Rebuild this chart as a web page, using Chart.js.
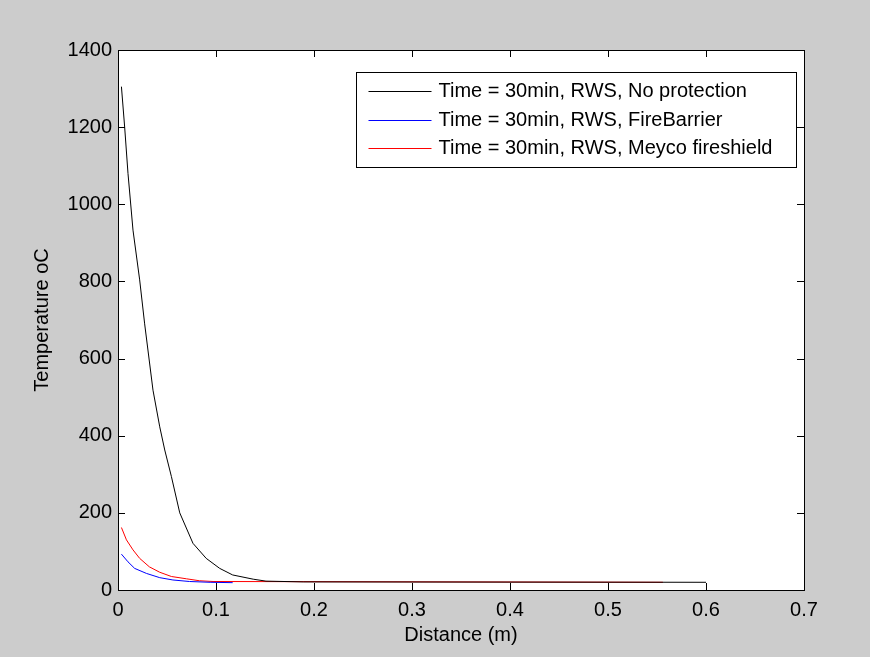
<!DOCTYPE html>
<html>
<head>
<meta charset="utf-8">
<title>Temperature vs distance</title>
<script src="https://cdn.jsdelivr.net/npm/chart.js@4.4.1/dist/chart.umd.min.js"></script>
<style>
  html, body { margin: 0; padding: 0; background: #cccccc; }
  canvas { display: block; }
</style>
</head>
<body>
<canvas id="chartTemp" width="870" height="657"></canvas>
<script>
// ── DATA ──
const distNoProt = [0.0035, 0.0068, 0.0102, 0.0153, 0.0221, 0.0272, 0.0357, 0.0426, 0.0477, 0.0545, 0.063, 0.0765, 0.090, 0.1038, 0.117, 0.138, 0.151, 0.189, 0.6];
const tempNoProt = [1305, 1200, 1080, 933, 804, 690, 518, 423, 363, 294, 200, 121, 82, 56, 39, 28, 23, 21, 20];

const distFireBarrier = [0.0035, 0.0102, 0.017, 0.029, 0.0426, 0.056, 0.073, 0.094, 0.117];
const tempFireBarrier = [93, 73, 56, 43, 32, 26, 22, 20, 19];

const distMeyco = [0.0035, 0.0086, 0.0153, 0.0221, 0.032, 0.0426, 0.0545, 0.07, 0.083, 0.097, 0.556];
const tempMeyco = [162, 130, 104, 82, 60, 46, 35, 29, 24, 22, 20];

const seriesLabels = [
    "Time = 30min, RWS, No protection",
    "Time = 30min, RWS, FireBarrier",
    "Time = 30min, RWS, Meyco fireshield"
];
const seriesColors = ["#000000", "#0000ff", "#ff0000"];

const xTicks = [0, 0.1, 0.2, 0.3, 0.4, 0.5, 0.6, 0.7];
const yTicks = [0, 200, 400, 600, 800, 1000, 1200, 1400];

const FONT = "'Liberation Sans', Arial, sans-serif";
const pts = (xs, ys) => xs.map((x, i) => ({ x: x, y: ys[i] }));

// ── MATLAB-like frame: white axes, full box, ticks pointing inward ──
const matlabFrame = {
    id: "matlabFrame",
    beforeDraw(chart) {
        const { ctx, chartArea: a } = chart;
        ctx.save();
        ctx.fillStyle = "#ffffff";
        ctx.fillRect(a.left, a.top, a.right - a.left, a.bottom - a.top);
        ctx.restore();
    },
    afterDatasetsDraw(chart) {
        const { ctx, chartArea: a, scales } = chart;
        const tl = 7;
        ctx.save();
        ctx.strokeStyle = "#000000";
        ctx.lineWidth = 1;
        ctx.beginPath();
        scales.x.ticks.forEach(t => {
            const px = Math.round(scales.x.getPixelForValue(t.value)) + 0.5;
            ctx.moveTo(px, a.bottom); ctx.lineTo(px, a.bottom - tl);
            ctx.moveTo(px, a.top); ctx.lineTo(px, a.top + tl);
        });
        scales.y.ticks.forEach(t => {
            const py = Math.round(scales.y.getPixelForValue(t.value)) + 0.5;
            ctx.moveTo(a.left, py); ctx.lineTo(a.left + tl, py);
            ctx.moveTo(a.right, py); ctx.lineTo(a.right - tl, py);
        });
        ctx.stroke();
        ctx.strokeRect(Math.round(a.left) + 0.5, Math.round(a.top) + 0.5,
            Math.round(a.right - a.left), Math.round(a.bottom - a.top));
        ctx.restore();
    }
};

// ── legend box, top right inside the axes ──
const boxLegend = {
    id: "boxLegend",
    afterDraw(chart) {
        const { ctx, chartArea: a } = chart;
        const w = 440, h = 95;
        const left = Math.round(a.right - 8 - w) + 0.5;
        const top = Math.round(a.top + 22) + 0.5;
        ctx.save();
        ctx.fillStyle = "#ffffff";
        ctx.fillRect(left, top, w, h);
        ctx.strokeStyle = "#000000";
        ctx.lineWidth = 1;
        ctx.strokeRect(left, top, w, h);
        ctx.font = "20px " + FONT;
        ctx.textBaseline = "middle";
        ctx.textAlign = "left";
        chart.data.datasets.forEach((ds, i) => {
            const y = Math.round(top + 18.5 + i * 28.6) + 0.5;
            ctx.strokeStyle = ds.borderColor;
            ctx.beginPath();
            ctx.moveTo(left + 12, y);
            ctx.lineTo(left + 75, y);
            ctx.stroke();
            ctx.fillStyle = "#000000";
            ctx.fillText(ds.label, left + 82, y);
        });
        ctx.restore();
    }
};

new Chart(document.getElementById("chartTemp"), {
    type: "line",
    data: {
        datasets: [
            { label: seriesLabels[0], data: pts(distNoProt, tempNoProt), borderColor: seriesColors[0] },
            { label: seriesLabels[1], data: pts(distFireBarrier, tempFireBarrier), borderColor: seriesColors[1] },
            { label: seriesLabels[2], data: pts(distMeyco, tempMeyco), borderColor: seriesColors[2] }
        ]
    },
    options: {
        responsive: false,
        animation: false,
        layout: { padding: { top: 50, right: 66, left: 0, bottom: 0 } },
        elements: {
            line: { borderWidth: 1, tension: 0, fill: false },
            point: { radius: 0 }
        },
        plugins: {
            legend: { display: false },
            tooltip: { enabled: false }
        },
        scales: {
            x: {
                type: "linear",
                min: 0, max: 0.7,
                afterBuildTicks: s => { s.ticks = xTicks.map(v => ({ value: v })); },
                afterFit: s => { s.height = 67; },
                grid: { display: false, drawTicks: false },
                border: { display: false },
                ticks: {
                    padding: 8, color: "#000", maxRotation: 0,
                    font: { family: FONT, size: 20 },
                    callback: v => String(Number(v.toFixed(1)))
                },
                title: {
                    display: true, text: "Distance (m)", color: "#000",
                    font: { family: FONT, size: 20 },
                    padding: { top: 0, bottom: 10 }
                }
            },
            y: {
                min: 0, max: 1400,
                afterBuildTicks: s => { s.ticks = yTicks.map(v => ({ value: v })); },
                afterFit: s => { s.width = 118; },
                grid: { display: false, drawTicks: false },
                border: { display: false },
                ticks: {
                    padding: 6, color: "#000",
                    font: { family: FONT, size: 20 },
                    callback: v => String(v)
                },
                title: {
                    display: true, text: "Temperature oC", color: "#000",
                    font: { family: FONT, size: 20 },
                    padding: { top: 30, bottom: 0 }
                }
            }
        }
    },
    plugins: [matlabFrame, boxLegend]
});
</script>
</body>
</html>
